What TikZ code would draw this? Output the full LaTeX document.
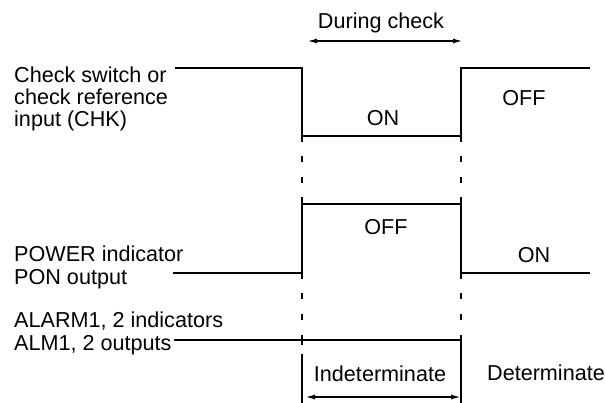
\documentclass[tikz,border=0pt]{standalone}
\usepackage{fontspec}
\setmainfont{Liberation Sans}
\usetikzlibrary{arrows.meta}
\tikzset{
  sig/.style={line width=1.1pt, line join=miter},
  guide/.style={line width=1.1pt, dash pattern=on 6pt off 14.5pt},
  dimarrow/.style={line width=1.1pt, {Latex[length=9pt,width=5pt]}-{Latex[length=9pt,width=5pt]}},
  lbl/.style={anchor=base west, inner sep=0pt, font=\fontsize{21.6}{22}\selectfont},
  ctr/.style={anchor=base, inner sep=0pt, font=\fontsize{21.6}{22}\selectfont}
}
\begin{document}
\begin{tikzpicture}[x=1pt,y=-1pt]
\useasboundingbox (0,0) rectangle (605,403);
% coordinates of the timing edges
\coordinate (c0) at (175,68);
\coordinate (c1) at (302,68);
\coordinate (c2) at (302,136);
\coordinate (c3) at (461,136);
\coordinate (c4) at (461,68);
\coordinate (c5) at (590,68);
\coordinate (p0) at (173,273);
\coordinate (p1) at (302,273);
\coordinate (p2) at (302,204);
\coordinate (p3) at (461,204);
\coordinate (p4) at (461,273);
\coordinate (p5) at (590,273);
\coordinate (a0) at (174,340);
\coordinate (a1) at (461,340);
% labels
\node[lbl] (l1a) at (14,83) {Check switch or};
\node[lbl] (l1b) at (14,105) {check reference};
\node[lbl] (l1c) at (14,127) {input (CHK)};
\node[lbl] (l2a) at (14,262) {POWER indicator};
\node[lbl] (l2b) at (14,285) {PON output};
\node[lbl] (l3a) at (14,327) {ALARM1, 2 indicators};
\node[lbl] (l3b) at (14,350) {ALM1, 2 outputs};
\node[ctr] (dc) at (381,29) {During check};
\node[ctr] (on1) at (383,126) {ON};
\node[ctr] (off1) at (524,106) {OFF};
\node[ctr] (off2) at (386,235) {OFF};
\node[ctr] (on2) at (534,263) {ON};
\node[ctr] (ind) at (380,381) {Indeterminate};
\node[ctr] (det) at (546,380) {Determinate};
% signals
\draw[sig] (c0) -- (c1) -- (c2) -- (c3) -- (c4) -- (c5);
\draw[sig] (p0) -- (p1) -- (p2) -- (p3) -- (p4) -- (p5);
\draw[sig] (a0) -- (a1);
% dashed guides
\draw[guide] (c2) -- (p2);
\draw[guide] (c3) -- (p3);
\draw[guide] (p1) -- (302,341);
\draw[guide] (p4) -- (461,341);
% indeterminate brackets
\coordinate (b1) at (302,354);
\coordinate (b2) at (302,403);
\coordinate (b3) at (461,335);
\coordinate (b4) at (461,403);
\draw[sig] (b1) -- (b2);
\draw[sig] (b3) -- (b4);
\draw[sig] (302,336) -- (302,345);
% dimension arrows
\coordinate (d1) at (308,41);
\coordinate (d2) at (462,41);
\draw[dimarrow] (d1) -- (d2);
\coordinate (e1) at (306,397);
\coordinate (e2) at (460,397);
\draw[dimarrow] (e1) -- (e2);
\end{tikzpicture}
\end{document}
